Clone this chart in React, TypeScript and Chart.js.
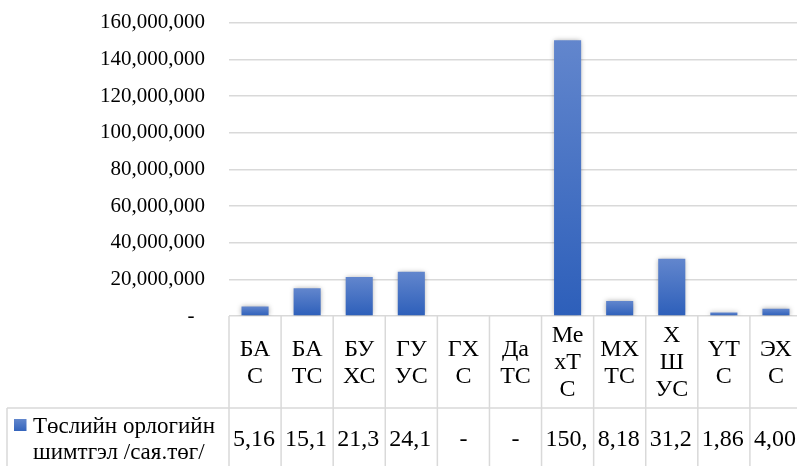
import React, { useEffect, useRef } from "react";
import { Chart, registerables } from "chart.js";

Chart.register(...registerables);

const categories = ["БАС", "БАТС", "БУХС", "ГУУС", "ГХС", "ДаТС", "МехТС", "МХТС", "ХШУС", "ҮТС", "ЭХС"];
const categoryLines = [
  ["БА", "С"],
  ["БА", "ТС"],
  ["БУ", "ХС"],
  ["ГУ", "УС"],
  ["ГХ", "С"],
  ["Да", "ТС"],
  ["Ме", "хТ", "С"],
  ["МХ", "ТС"],
  ["Х", "Ш", "УС"],
  ["ҮТ", "С"],
  ["ЭХ", "С"],
];
const values = [5160000, 15100000, 21300000, 24100000, 0, 0, 150400000, 8180000, 31200000, 1860000, 4000000];
const tableText = ["5,16", "15,1", "21,3", "24,1", "-", "-", "150,", "8,18", "31,2", "1,86", "4,00"];
const seriesLines = ["Төслийн орлогийн", "шимтгэл /сая.төг/"];
const yMax = 160000000;
const yStep = 20000000;

const FONT = "'Liberation Serif', 'Times New Roman', serif";
const GRID = "#d9d9d9";

const tablePlugin = {
  id: "dataTable",
  afterDraw(chart: any) {
    const ctx = chart.ctx;
    const area = chart.chartArea;
    const xs = chart.scales.x;
    const n = categories.length;
    const colW = (area.right - area.left) / n;
    const headerBottom = 408;
    const H = chart.height;
    ctx.save();
    ctx.strokeStyle = GRID;
    ctx.lineWidth = 1.5;
    for (let i = 0; i <= n; i++) {
      const x = area.left + i * colW;
      ctx.beginPath();
      ctx.moveTo(x, area.bottom);
      ctx.lineTo(x, H);
      ctx.stroke();
    }
    ctx.beginPath();
    ctx.moveTo(7, headerBottom);
    ctx.lineTo(area.right, headerBottom);
    ctx.stroke();
    ctx.beginPath();
    ctx.moveTo(7, headerBottom);
    ctx.lineTo(7, H);
    ctx.stroke();

    ctx.fillStyle = "#000";
    ctx.font = `24px ${FONT}`;
    ctx.textBaseline = "middle";
    const hc = (area.bottom + headerBottom) / 2 + 1;
    const lh = 27;
    for (let i = 0; i < n; i++) {
      const cx = xs.getPixelForValue(i);
      const lines = categoryLines[i];
      ctx.textAlign = "center";
      lines.forEach((t, k) => {
        ctx.fillText(t, cx, hc + (k - (lines.length - 1) / 2) * lh);
      });
    }
    const vy = 440;
    for (let i = 0; i < n; i++) {
      const left = area.left + i * colW;
      const t = tableText[i];
      if (t === "-") {
        ctx.textAlign = "center";
        ctx.fillText(t, left + colW / 2, vy);
      } else {
        ctx.textAlign = "left";
        ctx.fillText(t, left + 4, vy);
      }
    }
    const g = ctx.createLinearGradient(0, 419, 0, 431);
    g.addColorStop(0, "#6287cd");
    g.addColorStop(1, "#3464bc");
    ctx.fillStyle = g;
    ctx.fillRect(14, 419, 12.5, 12);
    ctx.fillStyle = "#000";
    ctx.textAlign = "left";
    ctx.font = `23px ${FONT}`;
    ctx.fillText(seriesLines[0], 33, 427);
    ctx.fillText(seriesLines[1], 33, 453);
    ctx.restore();
  },
};

const shadowPlugin = {
  id: "barShadow",
  beforeDatasetsDraw(chart: any) {
    const ctx = chart.ctx;
    ctx.save();
    ctx.shadowColor = "rgba(0,0,0,0.35)";
    ctx.shadowBlur = 5;
    ctx.shadowOffsetX = 0;
    ctx.shadowOffsetY = 0;
  },
  afterDatasetsDraw(chart: any) {
    chart.ctx.restore();
  },
};

export default function App() {
  const ref = useRef<HTMLCanvasElement | null>(null);
  useEffect(() => {
    if (!ref.current) return;
    const chart = new Chart(ref.current, {
      type: "bar",
      data: {
        labels: categories,
        datasets: [
          {
            label: seriesLines.join(" "),
            data: values,
            backgroundColor: (c: any) => {
              const chartObj = c.chart;
              const ys = chartObj.scales?.y;
              if (!ys || c.raw === undefined) return "#4472c4";
              const top = ys.getPixelForValue(c.raw);
              const base = ys.getPixelForValue(0);
              if (!isFinite(top) || !isFinite(base) || base - top < 1) return "#4472c4";
              const g = chartObj.ctx.createLinearGradient(0, top, 0, base);
              g.addColorStop(0, "#6286cd");
              g.addColorStop(1, "#2d5fba");
              return g;
            },
            borderWidth: 0,
            barPercentage: 1,
            categoryPercentage: 0.52,
          },
        ],
      },
      options: {
        responsive: false,
        animation: false,
        layout: { padding: { top: 22.7, bottom: 490 - 316, right: 8, left: 0 } },
        plugins: { legend: { display: false }, tooltip: { enabled: false } },
        scales: {
          x: { display: false },
          y: {
            min: 0,
            max: yMax,
            afterFit: (s: any) => {
              s.width = 229;
              s.paddingTop = 0;
              s.paddingBottom = 0;
            },
            border: { display: false },
            grid: { color: GRID, lineWidth: 1.5, drawTicks: false },
            ticks: {
              stepSize: yStep,
              padding: 24,
              color: "#000",
              font: { family: FONT, size: 21 },
              callback: (v: any) => (Number(v) === 0 ? "-  " : Number(v).toLocaleString("en-US")),
            },
          },
        },
      },
      plugins: [shadowPlugin, tablePlugin],
    });
    return () => chart.destroy();
  }, []);
  return (
    <div style={{ position: "fixed", left: 0, top: 0, width: 797, height: 466, overflow: "hidden", background: "#fff" }}>
      <canvas ref={ref} width={810} height={490} style={{ display: "block" }} />
    </div>
  );
}
